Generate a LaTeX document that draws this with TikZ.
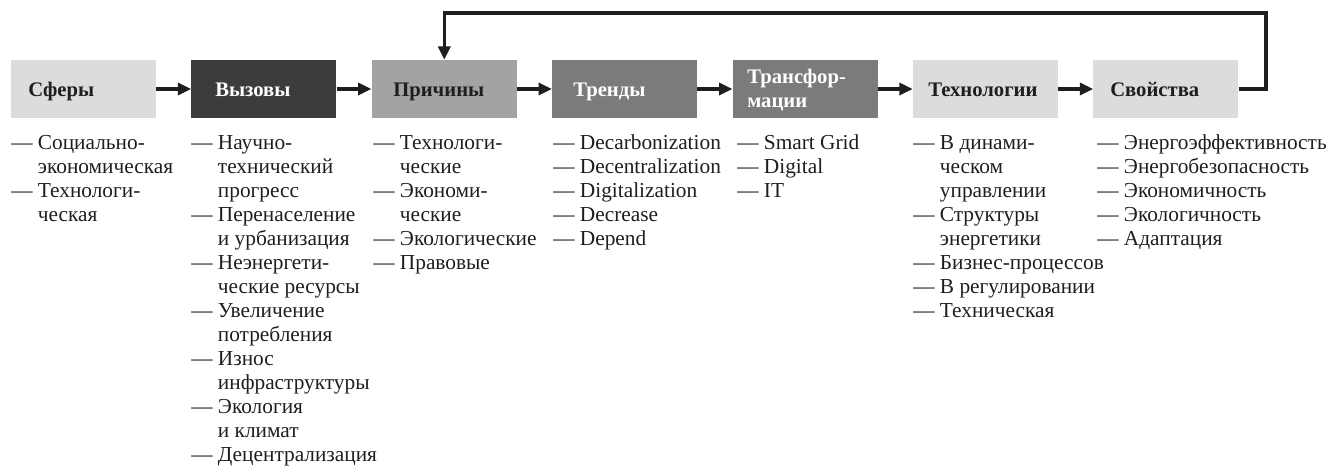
\documentclass[tikz,border=0pt]{standalone}
\usepackage{fontspec}
\setmainfont{Liberation Serif}
\usetikzlibrary{arrows.meta}
\definecolor{lightbox}{HTML}{DCDCDC}
\definecolor{darkbox}{HTML}{3C3C3C}
\definecolor{midbox}{HTML}{A3A3A3}
\definecolor{greybox}{HTML}{7B7B7B}
\definecolor{inkc}{HTML}{1E1E1E}
\newcommand\cnt{\hphantom{—\ }}
\begin{document}
\begin{tikzpicture}[x=0.75pt,y=-0.75pt,
  box/.style={draw=none, minimum width=108.75pt, minimum height=43.5pt, inner sep=0pt},
  boxtext/.style={anchor=base west, inner sep=0pt, font=\fontsize{15.5pt}{18pt}\selectfont\bfseries},
  listtext/.style={anchor=base west, inner sep=0pt, text=inkc, font=\fontsize{16pt}{18pt}\selectfont},
  conn/.style={line width=2.4pt, draw=inkc, -{Triangle[length=10pt,width=9pt]}},
  fb/.style={line width=2.6pt, draw=inkc}]
\useasboundingbox (0,0) rectangle (1329,466);

% boxes
\node[box, fill=lightbox] (sf) at (83.5,89) {};
\node[box, fill=darkbox]  (vz) at (263.9,89) {};
\node[box, fill=midbox]   (pr) at (444.3,89) {};
\node[box, fill=greybox]  (tr) at (624.7,89) {};
\node[box, fill=greybox]  (tf) at (805.1,89) {};
\node[box, fill=lightbox] (th) at (985.5,89) {};
\node[box, fill=lightbox] (sv) at (1165.9,89) {};

% box texts
\node[boxtext, text=inkc]  (sft) at (28,97)  {Сферы};
\node[boxtext, text=white] (vzt) at (215,97) {Вызовы};
\node[boxtext, text=inkc]  (prt) at (393,97) {Причины};
\node[boxtext, text=white] (trt) at (573,97) {Тренды};
\node[boxtext, text=white] (tft) at (747,84) {\begin{tabular}[t]{@{}l@{}}Трансфор-\\[-0.3pt]мации\end{tabular}};
\node[boxtext, text=inkc]  (tht) at (928,97) {Технологии};
\node[boxtext, text=inkc]  (svt) at (1110,97) {Свойства};

% connectors
\draw[conn] (sf.east) -- (vz.west);
\draw[conn] (vz.east) -- (pr.west);
\draw[conn] (pr.east) -- (tr.west);
\draw[conn] (tr.east) -- (tf.west);
\draw[conn] (tf.east) -- (th.west);
\draw[conn] (th.east) -- (sv.west);
\coordinate (fbA) at (1266,89);
\coordinate (fbB) at (1266,13);
\coordinate (fbC) at (444.3,13);
\draw[fb, -{Triangle[length=10pt,width=9pt]}, line join=miter] (sv.east) -- (fbA) -- (fbB) -- (fbC) -- (pr.north);

% lists
\node[listtext] (sfl) at (11,150) {\begin{tabular}[t]{@{}l@{}}
— Социально-\\
\cnt экономическая\\
— Технологи-\\
\cnt ческая
\end{tabular}};
\node[listtext] (vzl) at (191,150) {\begin{tabular}[t]{@{}l@{}}
— Научно-\\
\cnt технический\\
\cnt прогресс\\
— Перенаселение\\
\cnt и урбанизация\\
— Неэнергети-\\
\cnt ческие ресурсы\\
— Увеличение\\
\cnt потребления\\
— Износ\\
\cnt инфраструктуры\\
— Экология\\
\cnt и климат\\
— Децентрализация
\end{tabular}};
\node[listtext] (prl) at (373,150) {\begin{tabular}[t]{@{}l@{}}
— Технологи-\\
\cnt ческие\\
— Экономи-\\
\cnt ческие\\
— Экологические\\
— Правовые
\end{tabular}};
\node[listtext] (trl) at (553,150) {\begin{tabular}[t]{@{}l@{}}
— Decarbonization\\
— Decentralization\\
— Digitalization\\
— Decrease\\
— Depend
\end{tabular}};
\node[listtext] (tfl) at (737,150) {\begin{tabular}[t]{@{}l@{}}
— Smart Grid\\
— Digital\\
— IT
\end{tabular}};
\node[listtext] (thl) at (913,150) {\begin{tabular}[t]{@{}l@{}}
— В динами-\\
\cnt ческом\\
\cnt управлении\\
— Структуры\\
\cnt энергетики\\
— Бизнес-процессов\\
— В регулировании\\
— Техническая
\end{tabular}};
\node[listtext] (svl) at (1097,150) {\begin{tabular}[t]{@{}l@{}}
— Энергоэффективность\\
— Энергобезопасность\\
— Экономичность\\
— Экологичность\\
— Адаптация
\end{tabular}};
\end{tikzpicture}
\end{document}
